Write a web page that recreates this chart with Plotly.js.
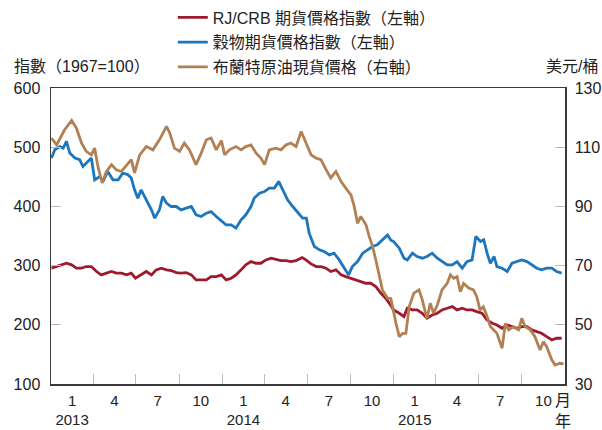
<!DOCTYPE html>
<html>
<head>
<meta charset="utf-8">
<script src="https://cdn.plot.ly/plotly-3.0.1.min.js"></script>
<style>html,body{margin:0;padding:0;background:#fff;}#chart{width:602px;height:430px;}</style>
</head>
<body>
<div id="chart"></div>
<script>
// ---------------- data ----------------
const seriesNames = ["RJ/CRB 期貨價格指數（左軸）", "穀物期貨價格指數（左軸）", "布蘭特原油現貨價格（右軸）"];

const crbDates = ["2013-01-02","2013-01-13","2013-01-24","2013-02-03","2013-02-14","2013-02-24","2013-03-07","2013-03-17","2013-03-28","2013-04-08","2013-04-18","2013-04-29","2013-05-10","2013-05-20","2013-05-31","2013-06-11","2013-06-21","2013-06-30","2013-07-12","2013-07-23","2013-08-03","2013-08-13","2013-08-24","2013-09-04","2013-09-14","2013-09-25","2013-10-05","2013-10-16","2013-10-27","2013-11-06","2013-11-17","2013-11-28","2013-12-08","2013-12-19","2013-12-30","2014-01-09","2014-01-20","2014-01-30","2014-02-10","2014-02-20","2014-03-03","2014-03-14","2014-03-24","2014-04-04","2014-04-15","2014-04-25","2014-05-06","2014-05-17","2014-05-27","2014-06-07","2014-06-20","2014-06-28","2014-07-09","2014-07-20","2014-07-30","2014-08-10","2014-08-20","2014-08-31","2014-09-11","2014-09-21","2014-10-02","2014-10-12","2014-10-23","2014-11-03","2014-11-13","2014-11-24","2014-12-05","2014-12-15","2014-12-24","2015-01-01","2015-01-13","2015-01-23","2015-01-30","2015-02-10","2015-02-20","2015-03-03","2015-03-13","2015-03-24","2015-04-04","2015-04-14","2015-04-25","2015-05-06","2015-05-16","2015-05-27","2015-06-06","2015-06-17","2015-06-27","2015-07-08","2015-07-19","2015-07-30","2015-08-09","2015-08-20","2015-08-31","2015-09-10","2015-09-21","2015-10-01","2015-10-12","2015-10-22","2015-11-02","2015-11-12","2015-11-23","2015-12-04","2015-12-14","2015-12-25"];
const crbValues = [295.6,298.4,301.2,304.0,301.2,295.6,295.6,298.4,298.4,290.0,284.3,287.2,290.0,287.2,287.2,284.3,287.2,278.7,284.3,290.0,284.3,292.8,295.6,292.8,291.6,288.2,287.2,288.2,284.3,275.8,275.8,275.8,281.4,281.4,284.3,275.8,278.7,284.3,292.8,301.2,306.8,304.0,304.0,309.6,312.5,310.8,308.5,308.5,306.8,308.5,313.6,309.6,302.9,298.4,298.4,295.6,290.0,292.8,284.3,281.4,278.7,275.8,273.0,270.2,270.2,264.5,253.3,244.9,235.0,225.1,219.5,213.8,228.0,225.1,225.1,219.5,211.0,216.6,219.5,225.1,228.0,230.7,225.1,228.0,225.1,225.1,222.2,219.5,208.2,202.6,199.7,194.2,199.7,196.9,194.2,196.9,196.9,191.3,188.4,185.7,180.0,174.4,177.3,177.3];

const grainDates = ["2013-01-02","2013-01-09","2013-01-20","2013-01-27","2013-02-03","2013-02-10","2013-02-21","2013-03-03","2013-03-10","2013-03-21","2013-03-28","2013-04-04","2013-04-15","2013-04-22","2013-05-02","2013-05-13","2013-05-24","2013-06-03","2013-06-14","2013-06-21","2013-06-28","2013-07-05","2013-07-12","2013-07-23","2013-08-03","2013-08-10","2013-08-20","2013-08-27","2013-09-04","2013-09-14","2013-09-25","2013-10-05","2013-10-16","2013-10-27","2013-11-06","2013-11-17","2013-11-28","2013-12-08","2013-12-19","2013-12-30","2014-01-09","2014-01-20","2014-01-30","2014-02-10","2014-02-20","2014-03-03","2014-03-10","2014-03-21","2014-04-01","2014-04-11","2014-04-22","2014-05-01","2014-05-09","2014-05-20","2014-05-31","2014-06-10","2014-06-21","2014-06-29","2014-07-05","2014-07-16","2014-07-27","2014-08-06","2014-08-17","2014-08-27","2014-09-07","2014-09-18","2014-09-27","2014-10-05","2014-10-16","2014-10-27","2014-11-06","2014-11-17","2014-11-27","2014-12-08","2014-12-19","2014-12-26","2015-01-01","2015-01-13","2015-01-23","2015-01-30","2015-02-10","2015-02-20","2015-03-03","2015-03-13","2015-03-24","2015-04-04","2015-04-14","2015-04-25","2015-05-06","2015-05-16","2015-05-27","2015-06-06","2015-06-17","2015-06-25","2015-07-05","2015-07-12","2015-07-19","2015-07-26","2015-08-03","2015-08-09","2015-08-20","2015-08-31","2015-09-10","2015-09-21","2015-10-01","2015-10-12","2015-10-22","2015-11-02","2015-11-12","2015-11-23","2015-12-04","2015-12-14","2015-12-25"];
const grainValues = [481.6,495.7,501.2,498.5,509.7,490.1,481.6,478.8,467.4,475.9,481.6,444.9,450.5,442.1,459.0,444.9,444.9,456.3,453.4,447.8,428.0,414.0,428.0,411.1,394.2,380.2,394.2,416.7,405.5,399.8,399.8,394.2,397.1,399.8,385.8,382.9,388.6,391.3,382.9,376.0,368.8,368.8,363.3,377.3,385.8,399.8,414.0,422.4,425.2,430.9,430.9,442.1,428.0,411.1,399.8,391.3,380.2,380.2,354.8,332.2,326.6,323.7,318.1,321.0,309.6,295.6,284.3,298.4,306.8,321.0,326.6,332.2,335.0,343.5,351.9,343.0,340.6,329.4,312.5,309.6,321.0,315.3,312.5,315.3,321.0,312.5,306.8,301.2,301.2,306.8,295.6,306.8,309.6,349.1,340.6,343.5,321.0,304.0,315.3,298.4,295.6,290.0,304.0,306.8,309.6,306.8,301.2,295.6,292.8,295.6,295.6,290.0,287.2];

const brentDates = ["2013-01-02","2013-01-13","2013-01-30","2013-02-14","2013-02-24","2013-03-07","2013-03-17","2013-03-28","2013-04-04","2013-04-11","2013-04-20","2013-04-29","2013-05-10","2013-05-20","2013-05-31","2013-06-11","2013-06-21","2013-06-28","2013-07-09","2013-07-23","2013-08-06","2013-08-20","2013-09-04","2013-09-11","2013-09-21","2013-10-02","2013-10-12","2013-10-23","2013-11-06","2013-11-17","2013-11-28","2013-12-08","2013-12-19","2013-12-30","2014-01-06","2014-01-16","2014-01-30","2014-02-10","2014-02-20","2014-03-03","2014-03-14","2014-03-24","2014-04-01","2014-04-11","2014-04-25","2014-05-06","2014-05-17","2014-05-27","2014-06-07","2014-06-18","2014-06-28","2014-07-09","2014-07-20","2014-07-30","2014-08-10","2014-08-20","2014-08-31","2014-09-11","2014-09-21","2014-10-02","2014-10-09","2014-10-16","2014-10-23","2014-11-03","2014-11-10","2014-11-17","2014-11-24","2014-12-01","2014-12-08","2014-12-19","2014-12-26","2015-01-06","2015-01-13","2015-01-20","2015-01-27","2015-02-03","2015-02-13","2015-02-24","2015-03-03","2015-03-10","2015-03-13","2015-03-20","2015-03-27","2015-04-04","2015-04-14","2015-04-25","2015-05-02","2015-05-09","2015-05-16","2015-05-23","2015-05-30","2015-06-10","2015-06-20","2015-06-27","2015-07-04","2015-07-11","2015-07-18","2015-07-26","2015-08-02","2015-08-09","2015-08-20","2015-08-27","2015-09-03","2015-09-13","2015-09-24","2015-10-01","2015-10-08","2015-10-19","2015-10-29","2015-11-09","2015-11-16","2015-11-23","2015-12-04","2015-12-11","2015-12-21","2015-12-29"];
const brentValues = [113.1,110.8,115.9,119.0,116.5,111.4,108.6,107.4,109.7,103.5,97.9,101.8,104.1,102.4,101.8,104.1,105.8,101.3,107.4,110.2,109.1,112.5,117.0,114.8,109.7,108.6,111.4,109.1,104.1,108.0,112.5,113.1,109.1,112.2,107.4,109.1,110.2,109.1,110.2,110.8,108.0,106.3,104.1,109.1,109.7,109.1,110.8,111.4,110.2,115.3,111.4,107.4,106.3,105.8,102.4,99.6,101.8,98.4,96.2,93.9,90.0,84.3,86.6,83.8,79.8,76.5,71.9,66.3,61.8,59.0,58.9,50.5,46.0,47.1,47.1,56.1,60.7,61.8,58.4,53.9,52.2,57.3,53.9,56.7,61.8,64.0,66.9,65.7,66.3,61.2,64.0,62.4,61.8,59.5,55.0,56.1,53.3,49.4,48.3,47.1,42.1,50.5,48.3,49.4,48.3,52.2,49.4,48.3,46.0,41.5,44.3,42.6,38.1,36.4,37.0,36.8];

const quarterBounds = ["2013-04-01","2013-07-01","2013-10-01","2014-01-01","2014-04-01","2014-07-01","2014-10-01","2015-01-01","2015-04-01","2015-07-01","2015-10-01"];
const labelDates = ["2013-02-15","2013-05-16","2013-08-16","2013-11-16","2014-02-15","2014-05-16","2014-08-16","2014-11-16","2015-02-15","2015-05-16","2015-08-16","2015-11-16"];
const labelTexts = ["1<br>2013","4","7","10","1<br>2014","4","7","10","1<br>2015","4","7","10"];

const colors = ["#9e1a2c", "#1b76bd", "#b28052"];
const FONT = "Liberation Sans, Arial, Noto Sans CJK TC, sans-serif";

const traces = [
  {x: crbDates, y: crbValues, name: seriesNames[0], type: "scatter", mode: "lines",
   line: {color: colors[0], width: 2.8}, xaxis: "x", yaxis: "y", legendgroup: "a"},
  {x: grainDates, y: grainValues, name: seriesNames[1], type: "scatter", mode: "lines",
   line: {color: colors[1], width: 2.8}, xaxis: "x", yaxis: "y", legendgroup: "b"},
  {x: brentDates, y: brentValues, name: seriesNames[2], type: "scatter", mode: "lines",
   line: {color: colors[2], width: 2.8}, xaxis: "x", yaxis: "y2", legendgroup: "c"},
  // carrier for the quarter-boundary tick axis (no data, no legend)
  {x: [], y: [], type: "scatter", mode: "lines", xaxis: "x2", yaxis: "y",
   showlegend: false, hoverinfo: "skip"}
];

const frame = "#3a3a3a";
const tickc = "#bdbdbd";

const layout = {
  width: 602, height: 430,
  margin: {l: 51, r: 37, t: 88, b: 46, autoexpand: false},
  paper_bgcolor: "#fff", plot_bgcolor: "#fff",
  font: {family: FONT, size: 15, color: "#222"},
  showlegend: true,
  legend: {x: 0.237, y: 1.296, xanchor: "left", yanchor: "top",
           font: {family: FONT, size: 16, color: "#222"}, bgcolor: "rgba(0,0,0,0)",
           traceorder: "grouped", tracegroupgap: 1},
  xaxis: {type: "date", range: ["2013-01-01", "2016-01-01"],
          tickmode: "array", tickvals: labelDates, ticktext: labelTexts, ticks: "",
          ticklabelstandoff: 2, tickfont: {size: 15, color: "#222"},
          showgrid: false, zeroline: false, showline: true, linecolor: frame, linewidth: 1.5, mirror: true},
  xaxis2: {type: "date", range: ["2013-01-01", "2016-01-01"], overlaying: "x", anchor: "y",
           tickmode: "array", tickvals: quarterBounds, showticklabels: false,
           ticks: "inside", ticklen: 10, tickwidth: 1, tickcolor: tickc,
           showgrid: false, zeroline: false, showline: false},
  yaxis: {range: [100, 600], tickmode: "linear", tick0: 100, dtick: 100,
          ticks: "inside", ticklen: 10, tickwidth: 1, tickcolor: tickc, ticklabelstandoff: 6,
          showgrid: false, zeroline: false, showline: true, linecolor: frame, linewidth: 1.5,
          tickfont: {size: 16, color: "#222"}},
  yaxis2: {range: [30, 130], tickmode: "linear", tick0: 30, dtick: 20, overlaying: "y", side: "right",
           ticks: "inside", ticklen: 10, tickwidth: 1, tickcolor: tickc, ticklabelstandoff: 5,
           showgrid: false, zeroline: false, showline: true, linecolor: frame, linewidth: 1.5,
           tickfont: {size: 16, color: "#222"}},
  annotations: [
    {text: "指數（1967=100）", xref: "paper", yref: "paper", x: -0.076, y: 1.071,
     xanchor: "left", yanchor: "middle", showarrow: false, font: {size: 16, color: "#222"}},
    {text: "美元/桶", xref: "paper", yref: "paper", x: 1.068, y: 1.071,
     xanchor: "right", yanchor: "middle", showarrow: false, font: {size: 16, color: "#222"}},
    {text: "月", xref: "paper", yref: "paper", x: 0.996, y: -0.057,
     xanchor: "center", yanchor: "middle", showarrow: false, font: {size: 16, color: "#222"}},
    {text: "年", xref: "paper", yref: "paper", x: 0.996, y: -0.128,
     xanchor: "center", yanchor: "middle", showarrow: false, font: {size: 16, color: "#222"}}
  ]
};

Plotly.newPlot("chart", traces, layout, {displayModeBar: false, staticPlot: true});
</script>
</body>
</html>
